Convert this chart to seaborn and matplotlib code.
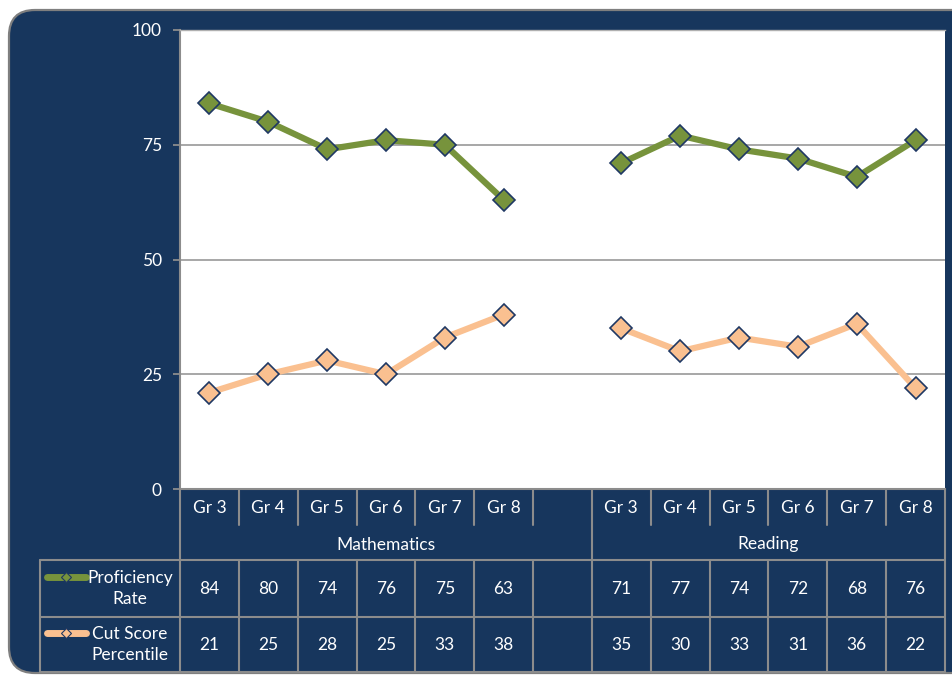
import matplotlib
matplotlib.use("Agg")
import matplotlib.pyplot as plt
import seaborn as sns
import pandas as pd
from matplotlib.patches import FancyBboxPatch
from matplotlib.lines import Line2D
from matplotlib.transforms import blended_transform_factory

# ---- data ----
grades = ["Gr 3", "Gr 4", "Gr 5", "Gr 6", "Gr 7", "Gr 8"]
subjects = ["Mathematics", "Reading"]
series_names = ["Proficiency\nRate", "Cut Score\nPercentile"]
prof_math = [84, 80, 74, 76, 75, 63]
prof_read = [71, 77, 74, 72, 68, 76]
cut_math = [21, 25, 28, 25, 33, 38]
cut_read = [35, 30, 33, 31, 36, 22]
yticks = [0, 25, 50, 75, 100]

NAVY = "#17365D"
GREEN = "#77933C"
ORANGE = "#FAC090"
EDGE = "#1F3864"
GRID = "#A0A0A0"
LINEC = "#8C8C8C"

# positions: 6 math slots, 1 blank slot, 6 reading slots
slot_pos = {"Mathematics": list(range(6)), "Reading": list(range(7, 13))}
rows = []
for sname, vals in [(series_names[0], {"Mathematics": prof_math, "Reading": prof_read}),
                    (series_names[1], {"Mathematics": cut_math, "Reading": cut_read})]:
    for subj in subjects:
        for g, p, v in zip(grades, slot_pos[subj], vals[subj]):
            rows.append({"series": sname, "subject": subj, "grade": g, "pos": p, "value": v})
df = pd.DataFrame(rows)

W, H = 953, 675
sns.set_theme(style="white")
plt.rcParams["font.family"] = ["Lato", "DejaVu Sans"]
fig = plt.figure(figsize=(W / 100, H / 100), dpi=100)
fig.patch.set_facecolor("white")

# background axes in pixel coordinates
bg = fig.add_axes([0, 0, 1, 1], zorder=0)
bg.set_xlim(0, W)
bg.set_ylim(H, 0)
bg.axis("off")
bg.add_patch(FancyBboxPatch((9, 10), 1000, 663,
                            boxstyle="round,pad=0,rounding_size=26",
                            facecolor=NAVY, edgecolor="#7F7F7F", linewidth=1.6))

# main axes
L, R, T, B = 180, 945, 30, 489
ax = fig.add_axes([L / W, (H - B) / H, (R - L) / W, (B - T) / H], zorder=2)
ax.set_facecolor("white")
for y in yticks[1:-1]:
    ax.axhline(y, color=GRID, lw=1.3, zorder=0)

palette = {series_names[0]: GREEN, series_names[1]: ORANGE}
sns.lineplot(data=df, x="pos", y="value", hue="series", units="subject",
             estimator=None, palette=palette, marker="D", markersize=11,
             markeredgecolor=EDGE, markeredgewidth=1.2, linewidth=4.5,
             legend=False, ax=ax, zorder=3)

ax.set_xlim(-0.5, 12.5)
ax.set_ylim(0, 100)
ax.set_yticks(yticks)
ax.set_xticks([])
ax.set_xlabel("")
ax.set_ylabel("")
ax.tick_params(axis="y", colors=LINEC, length=5, width=1.3, pad=8, labelsize=12.5,
               labelcolor="white", left=True)
for s in ["left", "bottom", "top"]:
    ax.spines[s].set_color(LINEC)
    ax.spines[s].set_linewidth(1.5)
ax.spines["top"].set_color("#B0B0B0")
ax.spines["top"].set_linewidth(1)
ax.spines["right"].set_visible(False)

# table drawn in blended coords: x from data slots, y in pixels
tr = blended_transform_factory(ax.transData, bg.transData)
lw = 1.5
y_cat0, y_cat1, y_grp1, y_r1, y_r2 = 489, 525, 560, 617, 672

bounds = [i - 0.5 for i in range(14)]
for b in bounds:
    if b in (-0.5, 6.5, 12.5):
        bg.plot([b, b], [y_cat0, y_r2], color=LINEC, lw=lw, transform=tr, zorder=1)
    else:
        bg.plot([b, b], [y_cat0, y_cat1], color=LINEC, lw=lw, transform=tr, zorder=1)
        bg.plot([b, b], [y_grp1, y_r2], color=LINEC, lw=lw, transform=tr, zorder=1)

for yy in (y_grp1, y_r1, y_r2):
    bg.plot([40, R], [yy, yy], color=LINEC, lw=lw, zorder=1)
bg.plot([40, 40], [y_grp1, y_r2], color=LINEC, lw=lw, zorder=1)

fs = 12.5
for subj in subjects:
    for g, p in zip(grades, slot_pos[subj]):
        bg.text(p, (y_cat0 + y_cat1) / 2 + 1, g, color="white", fontsize=fs,
                ha="center", va="center", transform=tr)
bg.text(3, (y_cat1 + y_grp1) / 2 + 2, subjects[0], color="white", fontsize=fs,
        ha="center", va="center", transform=tr)
bg.text(9.5, (y_cat1 + y_grp1) / 2 + 2, subjects[1], color="white", fontsize=fs,
        ha="center", va="center", transform=tr)

row_centres = [(y_grp1 + y_r1) / 2, (y_r1 + y_r2) / 2]
for (sname, color), yc in zip(palette.items(), row_centres):
    sub = df[df["series"] == sname]
    for _, r in sub.iterrows():
        bg.text(r["pos"], yc + 1, str(r["value"]), color="white", fontsize=fs,
                ha="center", va="center", transform=tr)
    bg.text(130, yc, sname, color="white", fontsize=fs, ha="center", va="center",
            linespacing=1.4)
    ky = yc - 12
    bg.add_line(Line2D([47, 86], [ky, ky], color=color, lw=5, solid_capstyle="round"))
    bg.add_line(Line2D([66], [ky], marker="D", markersize=5.5, markerfacecolor=color,
                       markeredgecolor=EDGE, markeredgewidth=0.8))

fig.savefig("out.png", dpi=100, facecolor="white")
